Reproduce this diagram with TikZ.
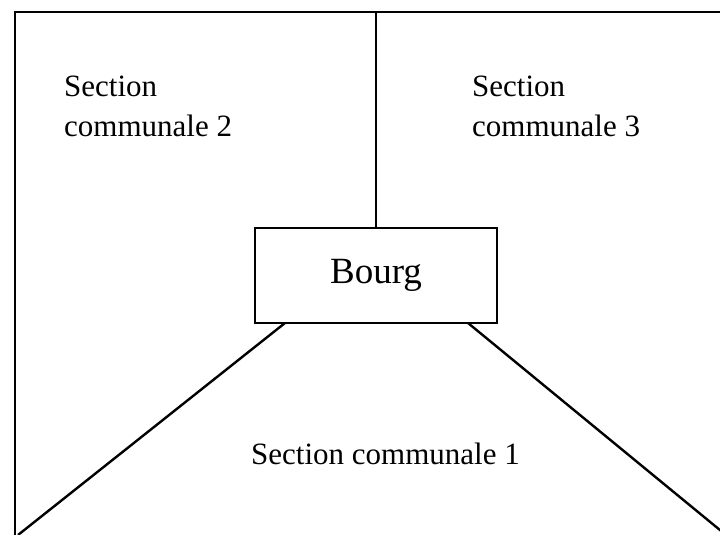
\documentclass[tikz,border=0pt]{standalone}
\usepackage{fontspec}
\setmainfont{Liberation Serif}

\begin{document}
\begin{tikzpicture}[x=1pt, y=1pt, line width=2.4pt]
\useasboundingbox (0, 0) rectangle (720, 535);
\clip (0, 0) rectangle (720, 535);
%Cadre
\draw (15, -20) -- (15, 523) -- (740, 523);
%Bourg
\node [draw, minimum width=242, minimum height=95, inner sep=0, font=\fontsize{37}{44}\selectfont] (bourg) at (376, 259.5) {Bourg};
\coordinate (haut) at (376, 523);
\coordinate (bg) at (285, 212);
\coordinate (bd) at (468, 212);
\coordinate (fg) at (18, 0);
\coordinate (fd) at (726, 0);
\draw (bourg.north) -- (haut);
\draw (bg) -- (fg);
\draw (bd) -- (fd);
%Texte
\node [anchor=base west, inner sep=0, align=left, font=\fontsize{31}{40}\selectfont] (sec2) at (63, 398) {Section\\communale 2};
\node [anchor=base west, inner sep=0, align=left, font=\fontsize{31}{40}\selectfont] (sec3) at (471, 398) {Section\\communale 3};
\node [anchor=base west, inner sep=0, font=\fontsize{31}{40}\selectfont] (sec1) at (250, 70) {Section communale 1};
\end{tikzpicture}
\end{document}
